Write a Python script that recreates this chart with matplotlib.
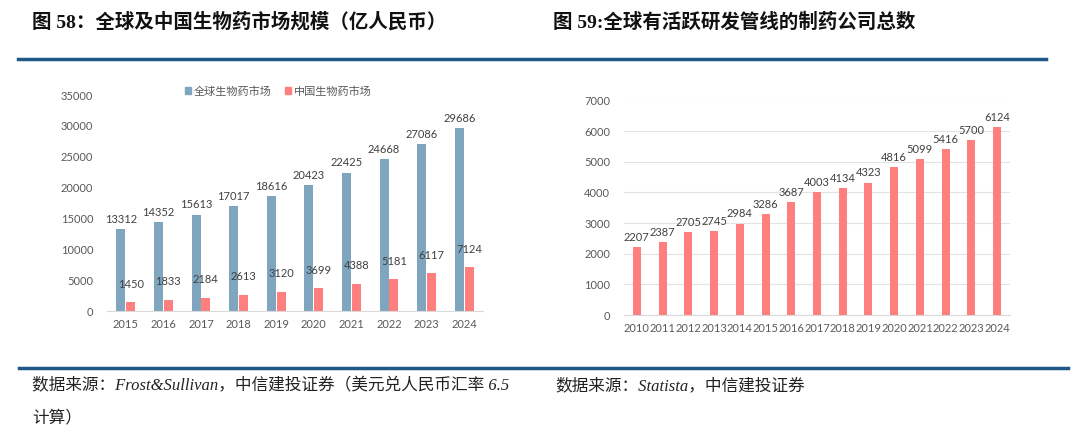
import numpy as np
import matplotlib.pyplot as plt
from matplotlib.lines import Line2D
from matplotlib.patches import Patch

plt.rcParams['font.family'] = ['Lato', 'Noto Sans CJK SC', 'DejaVu Sans']

# left chart: global vs china biologics market (100m RMB)
years_l = ["2015", "2016", "2017", "2018", "2019", "2020", "2021", "2022", "2023", "2024"]
global_mkt = [13312, 14352, 15613, 17017, 18616, 20423, 22425, 24668, 27086, 29686]
china_mkt = [1450, 1833, 2184, 2613, 3120, 3699, 4388, 5181, 6117, 7124]

# right chart: pharma companies with active pipelines
years_r = [str(y) for y in range(2010, 2025)]
companies = [2207, 2387, 2705, 2745, 2984, 3286, 3687, 4003, 4134, 4323,
             4816, 5099, 5416, 5700, 6124]

BLUE = "#7fa5bf"
RED = "#ff7f7f"
TICK_C = "#595959"
LABEL_C = "#404040"
LINE_C = "#1d5889"
CJK = ['Liberation Serif', 'Noto Sans CJK SC']
FS = 8

fig = plt.figure(figsize=(10.8, 4.43), dpi=100)
W, H = 1080, 443


def px(x, y):
    return x / W, 1 - y / H


# titles
fig.text(*px(32, 22), "图 58：全球及中国生物药市场规模（亿人民币）", family=CJK,
         fontweight="bold", fontsize=14, va="center", ha="left", color="#111111")
fig.text(*px(553, 22), "图 59:全球有活跃研发管线的制药公司总数", family=CJK,
         fontweight="bold", fontsize=14, va="center", ha="left", color="#111111")

# separator lines
for y0, x0, x1 in [(59, 18, 1046), (368, 19, 1068)]:
    fig.add_artist(Line2D([x0 / W, x1 / W], [1 - y0 / H] * 2, color=LINE_C,
                          linewidth=2.5, transform=fig.transFigure))

# sources
src_kw = dict(family=CJK, style="italic", fontsize=12, va="center", ha="left", color="#222222")
fig.text(*px(32, 386), "数据来源：Frost&Sullivan，中信建投证券（美元兑人民币汇率 6.5", **src_kw)
fig.text(*px(32, 418), "计算）", **src_kw)
fig.text(*px(555, 386), "数据来源：Statista，中信建投证券", **src_kw)

# left chart
axl = fig.add_axes([107 / W, 1 - 311 / H, 376 / W, 216 / H])
x = np.arange(len(years_l))
bw = 0.24
b1 = axl.bar(x - 0.13, global_mkt, bw, color=BLUE)
b2 = axl.bar(x + 0.13, china_mkt, bw, color=RED)
axl.bar_label(b1, padding=3, fontsize=FS, color=LABEL_C)
axl.bar_label(b2, padding=9, fontsize=FS, color=LABEL_C)
axl.set_xlim(-0.5, len(years_l) - 0.5)
axl.set_ylim(0, 35000)
axl.set_yticks(np.arange(0, 35001, 5000))
axl.set_xticks(x)
axl.set_xticklabels(years_l)
fig.legend(handles=[Patch(color=BLUE, label="全球生物药市场"),
                    Patch(color=RED, label="中国生物药市场")],
           loc="center", bbox_to_anchor=px(278, 91), ncol=2, frameon=False,
           fontsize=FS, handlelength=0.6, handleheight=0.6, handletextpad=0.2,
           columnspacing=1.2, labelcolor=TICK_C)

# right chart
axr = fig.add_axes([624 / W, 1 - 315 / H, 386 / W, 214.5 / H])
xr = np.arange(len(years_r))
b3 = axr.bar(xr, companies, 0.31, color=RED, zorder=3)
axr.bar_label(b3, padding=3, fontsize=FS, color=LABEL_C)
axr.set_xlim(-0.5, len(years_r) - 0.5)
axr.set_ylim(0, 7000)
axr.set_yticks(np.arange(0, 7001, 1000))
axr.set_xticks(xr)
axr.set_xticklabels(years_r)
axr.yaxis.grid(True, color="#e3e3e3", linewidth=0.8, zorder=0)
axr.set_axisbelow(True)

for ax in (axl, axr):
    for s in ("top", "right", "left"):
        ax.spines[s].set_visible(False)
    ax.spines["bottom"].set_color("#d9d9d9")
    ax.tick_params(length=0, labelsize=FS, colors=TICK_C)
    ax.tick_params(axis="y", pad=10)
    ax.tick_params(axis="x", pad=6)
    ax.patch.set_alpha(0)

fig.savefig("out.png", dpi=100)
